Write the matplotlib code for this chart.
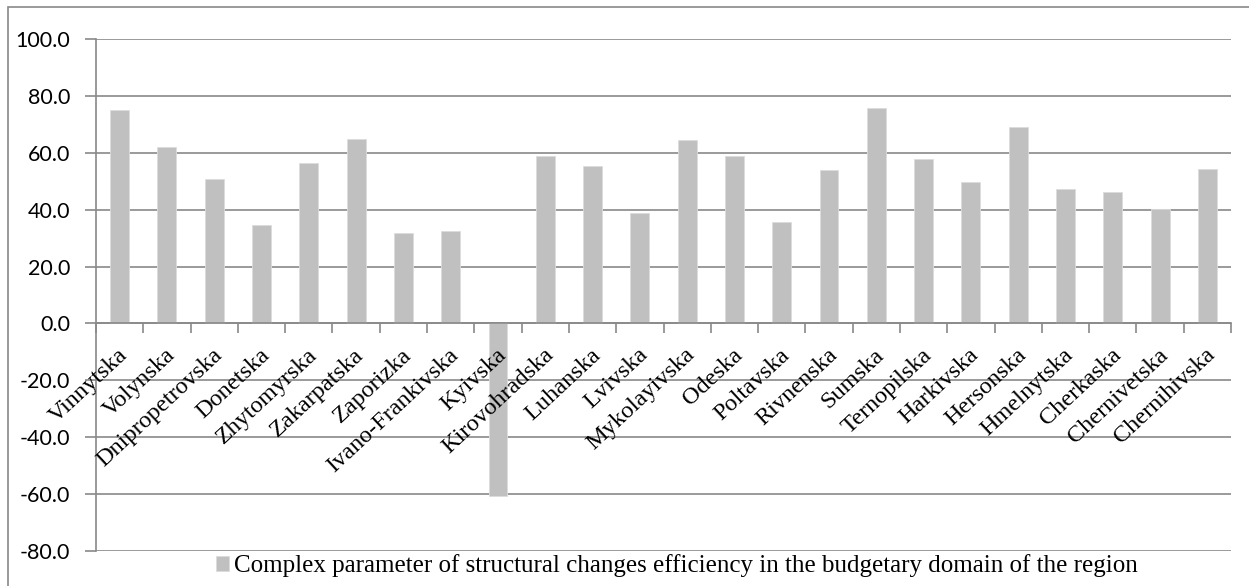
import matplotlib
matplotlib.use("Agg")
import matplotlib.pyplot as plt
import matplotlib.transforms as mtransforms
from matplotlib.patches import Rectangle
import numpy as np

regions = ["Vinnytska", "Volynska", "Dnipropetrovska", "Donetska", "Zhytomyrska",
           "Zakarpatska", "Zaporizka", "Ivano-Frankivska", "Kyivska", "Kirovohradska",
           "Luhanska", "Lvivska", "Mykolayivska", "Odeska", "Poltavska", "Rivnenska",
           "Sumska", "Ternopilska", "Harkivska", "Hersonska", "Hmelnytska", "Cherkaska",
           "Chernivetska", "Chernihivska"]
values = [75.0, 62.0, 50.8, 34.7, 56.4, 64.7, 31.7, 32.6, -60.8, 59.0, 55.3, 38.7,
          64.5, 58.7, 35.6, 53.9, 75.8, 57.8, 49.7, 69.0, 47.2, 46.1, 40.1, 54.2]
yticks = [-80, -60, -40, -20, 0, 20, 40, 60, 80, 100]
legend_label = "Complex parameter of structural changes efficiency in the budgetary domain of the region"

W, H = 1249, 586
fig = plt.figure(figsize=(W / 100, H / 100), dpi=100)
ax = fig.add_axes([96 / W, 1 - 551 / H, (1231 - 96) / W, (551 - 39) / H])

grid_c = "#898989"
bar_c = "#c0c0c0"

x = np.arange(len(regions))
bars = ax.bar(x, values, width=0.40, color=bar_c, edgecolor="#dcdcdc", linewidth=0.6,
              zorder=3, label=legend_label)

ax.set_xlim(-0.5, len(regions) - 0.5)
ax.set_ylim(-80, 100)
ax.set_yticks(yticks)
ax.set_yticklabels([f"{v:.1f}" for v in yticks], fontfamily="Lato", fontsize=15.5)
ax.yaxis.grid(True, color=grid_c, linewidth=1.2, zorder=0)
ax.set_axisbelow(True)

for s in ["top", "right"]:
    ax.spines[s].set_visible(False)
ax.spines["left"].set_color(grid_c)
ax.spines["left"].set_linewidth(1.2)
ax.spines["bottom"].set_position(("data", 0))
ax.spines["bottom"].set_color(grid_c)
ax.spines["bottom"].set_linewidth(1.2)
ax.spines["bottom"].set_zorder(4)

ax.set_xticks(np.arange(-0.5, len(regions), 1.0))
ax.set_xticklabels([])
ax.tick_params(axis="x", direction="out", length=7, width=1.2, color=grid_c)
ax.tick_params(axis="y", direction="out", length=8, width=1.2, color=grid_c, pad=10.5)

offset = mtransforms.ScaledTranslation(-1.5 / 72, -15.0 / 72, fig.dpi_scale_trans)
for i, name in enumerate(regions):
    ax.text(i, 0, name, rotation=43, rotation_mode="anchor", ha="right", va="top",
            fontfamily="Liberation Serif", fontsize=17.5,
            transform=ax.transData + offset, zorder=5)

leg = fig.legend(handles=[bars], labels=[legend_label], loc="center",
                 bbox_to_anchor=(677 / W, 1 - 566 / H), frameon=False,
                 prop={"family": "Liberation Serif", "size": 18},
                 handlelength=0.5, handleheight=0.55, handletextpad=0.2,
                 borderaxespad=0)

fig.patches.append(Rectangle((8 / W, -0.1), 1.2, 1.1 - 7 / H, transform=fig.transFigure,
                             fill=False, edgecolor=grid_c, linewidth=1.2))

fig.savefig("out.png", dpi=100)
